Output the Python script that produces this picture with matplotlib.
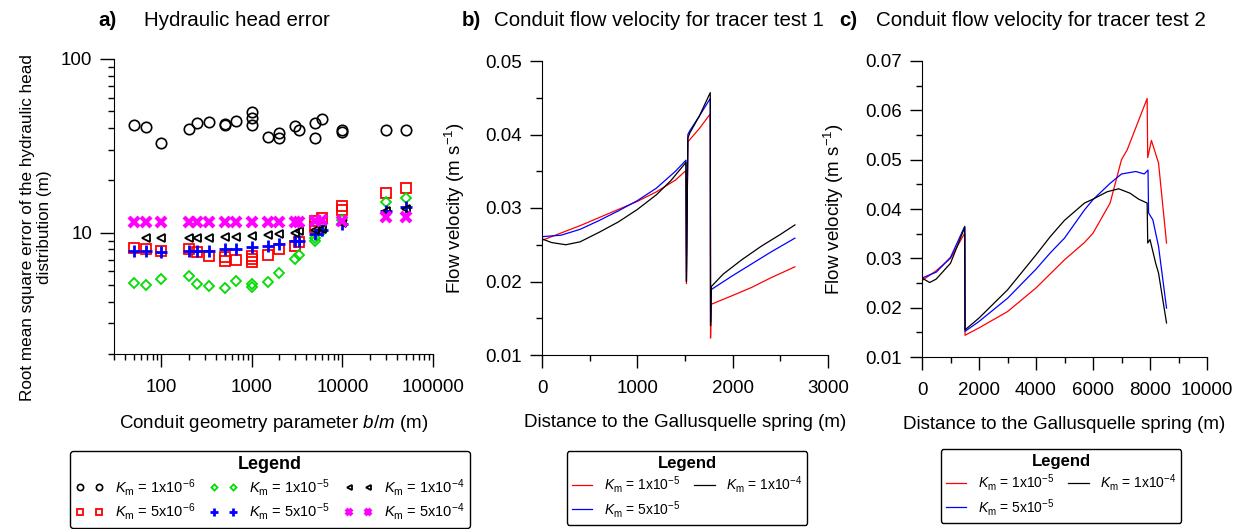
import numpy as np
import matplotlib
matplotlib.use('Agg')
import matplotlib.pyplot as plt
from matplotlib.ticker import LogLocator, MultipleLocator, NullFormatter, FixedLocator

plt.rcParams['font.family'] = ['Liberation Sans', 'DejaVu Sans']
plt.rcParams['mathtext.fontset'] = 'custom'
plt.rcParams['mathtext.rm'] = 'Liberation Sans'
plt.rcParams['mathtext.it'] = 'Liberation Sans:italic'
plt.rcParams['mathtext.bf'] = 'Liberation Sans:bold'

# ---- panel a: RMSE of hydraulic head vs b/m ----
bm = [50, 67, 100, 200, 250, 333, 500, 667, 1000, 1500, 2000, 3000, 3333, 5000, 6000, 10000, 30000, 50000]

# K_m = 1e-6 (circles), some b/m have several runs
circ_x = [50, 67, 100, 200, 250, 333, 500, 500, 667, 1000, 1000, 1000, 1500, 2000, 2000,
          3000, 3333, 5000, 5000, 6000, 10000, 10000, 30000, 50000]
circ_y = [41.9, 40.6, 33.0, 39.7, 42.9, 43.6, 42.5, 41.7, 44.0, 49.4, 46.0, 41.9, 35.6, 37.7, 35.1,
          41.4, 38.9, 42.9, 35.2, 45.4, 39.2, 38.2, 39.2, 39.2]
# K_m = 5e-6 (squares)
sq_x = [50, 67, 100, 200, 250, 333, 500, 500, 667, 1000, 1000, 1000, 1500, 2000, 3000, 3333,
        5000, 5000, 6000, 10000, 10000, 30000, 50000]
sq_y = [8.2, 8.0, 7.8, 8.0, 7.7, 7.3, 7.2, 6.9, 7.0, 7.35, 7.05, 6.75, 7.45, 8.05, 8.4, 8.8,
        11.6, 10.8, 12.2, 14.3, 13.5, 16.9, 18.0]
# K_m = 1e-5 (diamonds)
dia_x = [50, 67, 100, 200, 250, 333, 500, 667, 1000, 1000, 1500, 2000, 3000, 3333, 5000, 5000,
         6000, 10000, 30000, 50000]
dia_y = [5.12, 4.99, 5.40, 5.63, 5.05, 4.94, 4.79, 5.28, 5.05, 4.87, 5.23, 5.85, 7.05, 7.43, 9.0, 9.3,
         10.2, 11.8, 15.0, 15.8]
# K_m = 5e-5 (plus)
plus_y = [7.8, 7.8, 7.75, 7.8, 7.8, 7.8, 8.0, 8.05, 8.3, 8.4, 8.6, 8.9, 9.0, 9.8, 10.3, 11.2, 13.4, 14.0]
# K_m = 1e-4 (triangles)
tri_x = bm[1:]
tri_y = [9.3, 9.3, 9.35, 9.3, 9.3, 9.4, 9.4, 9.6, 9.7, 9.8, 10.0, 10.2, 10.4, 10.5, 11.3, 13.3, 13.6]
# K_m = 5e-4 (crosses)
x_y = [11.5, 11.5, 11.5, 11.5, 11.5, 11.5, 11.5, 11.5, 11.5, 11.5, 11.5, 11.5, 11.5, 11.7, 11.8, 11.7, 12.3, 12.3]

# ---- panel b: tracer test 1 ----
b_red_x = [0, 200, 400, 600, 800, 1000, 1200, 1400, 1510, 1515, 1530, 1550, 1650, 1765, 1768, 1775, 2000, 2200, 2400, 2653]
b_red_y = [0.0256, 0.0266, 0.0276, 0.0287, 0.0298, 0.0309, 0.0322, 0.0338, 0.0351, 0.0197, 0.0390, 0.0393,
           0.0408, 0.0428, 0.0123, 0.0169, 0.0181, 0.0192, 0.0205, 0.0220]
b_blue_x = [0, 200, 400, 600, 800, 1000, 1200, 1400, 1510, 1515, 1530, 1550, 1650, 1765, 1768, 1775, 2000, 2200, 2400, 2653]
b_blue_y = [0.0261, 0.0263, 0.0271, 0.0283, 0.0296, 0.0310, 0.0327, 0.0350, 0.0365, 0.0200, 0.0400, 0.0405,
            0.0425, 0.0449, 0.0145, 0.0189, 0.0208, 0.0224, 0.0240, 0.0259]
b_black_x = [0, 100, 250, 400, 600, 800, 1000, 1200, 1350, 1510, 1515, 1530, 1550, 1650, 1765, 1768, 1775,
             1900, 2100, 2300, 2500, 2653]
b_black_y = [0.0258, 0.0253, 0.0250, 0.0254, 0.0267, 0.0281, 0.0298, 0.0318, 0.0337, 0.0362, 0.0200, 0.0395,
             0.0402, 0.0425, 0.0457, 0.0140, 0.0193, 0.0210, 0.0230, 0.0248, 0.0264, 0.0277]

# ---- panel c: tracer test 2 ----
c_red_x = [0, 500, 1000, 1500, 1510, 2000, 3000, 4000, 5000, 5700, 6000, 6600, 7000, 7200, 7900, 7920,
           8050, 8300, 8580]
c_red_y = [0.0255, 0.0275, 0.0300, 0.0351, 0.0144, 0.0159, 0.0192, 0.0240, 0.0297, 0.0332, 0.0351, 0.0412,
           0.0500, 0.0520, 0.0624, 0.0504, 0.0539, 0.0493, 0.0331]
c_blue_x = [0, 500, 1000, 1500, 1510, 2000, 3000, 4000, 4500, 5000, 5700, 6000, 6600, 7000, 7500, 7800,
            7930, 7950, 8100, 8300, 8580]
c_blue_y = [0.0260, 0.0272, 0.0302, 0.0365, 0.0152, 0.0172, 0.0219, 0.0278, 0.0311, 0.0341, 0.0398, 0.0419,
            0.0452, 0.0471, 0.0476, 0.0471, 0.0479, 0.0392, 0.0378, 0.0324, 0.0199]
c_black_x = [0, 270, 500, 1000, 1500, 1510, 2000, 3000, 4000, 4500, 5000, 5700, 6000, 6500, 6900, 7300,
             7600, 7900, 7920, 8000, 8200, 8300, 8580]
c_black_y = [0.0260, 0.0251, 0.0258, 0.0290, 0.0363, 0.0155, 0.0179, 0.0236, 0.0307, 0.0344, 0.0377, 0.0412,
             0.0420, 0.0435, 0.0441, 0.0432, 0.0420, 0.0412, 0.0331, 0.0338, 0.0290, 0.0270, 0.0169]

W, H = 1243, 529
fig = plt.figure(figsize=(W / 100, H / 100), dpi=100)


def box(l, r, t, b):
    return [l / W, 1 - b / H, (r - l) / W, (b - t) / H]


def style(ax):
    ax.spines['top'].set_visible(False)
    ax.spines['right'].set_visible(False)
    ax.tick_params(which='major', direction='out', length=9, width=1, labelsize=13.5)
    ax.tick_params(axis='x', which='major', pad=9)
    ax.tick_params(axis='y', which='major', pad=5.5)
    ax.tick_params(which='minor', direction='out', length=4.5, width=1)


def legend(handles, labels, cx, top, ncol, fs, tfs, **kw):
    lg = fig.legend(handles, labels, loc='upper center', bbox_to_anchor=(cx / W, 1 - top / H), ncol=ncol,
                    fontsize=fs, title='Legend', title_fontproperties={'weight': 'bold', 'size': tfs},
                    frameon=True, fancybox=True, edgecolor='black', framealpha=1,
                    borderpad=0.36, labelspacing=0.24, borderaxespad=0, **kw)
    lg.get_frame().set_linewidth(1)
    return lg


km = r'$K_\mathrm{m}$ = '

# panel a
axa = fig.add_axes(box(114, 433, 59, 354))
style(axa)
axa.tick_params(axis='y', which='major', length=10)
axa.set_xscale('log')
axa.set_yscale('log')
axa.plot(circ_x, circ_y, 'o', ms=7.5, mfc='none', mec='black', mew=1.2, ls='none', label=km + '1x10$^{-6}$')
axa.plot(sq_x, sq_y, 's', ms=7.3, mfc='none', mec='red', mew=1.3, ls='none', label=km + '5x10$^{-6}$')
axa.plot(dia_x, dia_y, 'D', ms=5.2, mfc='none', mec='#00dd00', mew=1.3, ls='none', label=km + '1x10$^{-5}$')
axa.plot(bm, plus_y, '+', ms=9, mec='blue', mew=2, ls='none', label=km + '5x10$^{-5}$')
axa.plot(tri_x, tri_y, '<', ms=6, mfc='none', mec='black', mew=1.3, ls='none', label=km + '1x10$^{-4}$')
axa.plot(bm, x_y, 'x', ms=7, mec='magenta', mew=3, ls='none', label=km + '5x10$^{-4}$')
axa.set_xlim(30, 1e5)
axa.set_ylim(2, 100)
axa.xaxis.set_major_locator(FixedLocator([100, 1000, 10000, 100000]))
axa.xaxis.set_minor_locator(LogLocator(base=10, subs=np.arange(2, 10)))
axa.xaxis.set_minor_formatter(NullFormatter())
axa.yaxis.set_major_locator(FixedLocator([10, 100]))
axa.yaxis.set_minor_locator(LogLocator(base=10, subs=np.arange(2, 10)))
axa.yaxis.set_minor_formatter(NullFormatter())
axa.set_xticklabels(['100', '1000', '10000', '100000'])
axa.set_yticklabels(['10', '100'])
axa.set_xlabel(r'Conduit geometry parameter $b/m$ (m)', fontsize=13.5)
axa.set_ylabel('Root mean square error of the hydraulic head\ndistribution (m)', fontsize=12.3,
               linespacing=1.15)
axa.yaxis.set_label_coords(-0.195, 0.43)
axa.xaxis.set_label_coords(0.5, -0.2)

ha_, la_ = axa.get_legend_handles_labels()
legend(ha_, la_, 270, 451, 3, 10.5, 13, numpoints=2, markerscale=0.6,
       handlelength=1.9, handletextpad=0.8, columnspacing=1.0)

# panel b
axb = fig.add_axes(box(542, 828, 61, 355))
style(axb)
axb.plot(b_red_x, b_red_y, color='red', lw=0.9, label=km + '1x10$^{-5}$')
axb.plot(b_blue_x, b_blue_y, color='blue', lw=0.9, label=km + '5x10$^{-5}$')
axb.plot(b_black_x, b_black_y, color='black', lw=0.9, label=km + '1x10$^{-4}$')
axb.set_xlim(0, 3000)
axb.set_ylim(0.01, 0.05)
axb.xaxis.set_major_locator(MultipleLocator(1000))
axb.xaxis.set_minor_locator(MultipleLocator(500))
axb.yaxis.set_major_locator(MultipleLocator(0.01))
axb.yaxis.set_minor_locator(MultipleLocator(0.005))
axb.yaxis.set_major_formatter(plt.FormatStrFormatter('%.2f'))
axb.set_xlabel('Distance to the Gallusquelle spring (m)', fontsize=13.5)
axb.set_ylabel(r'Flow velocity (m s$^{-1}$)', fontsize=13.5)
axb.xaxis.set_label_coords(0.5, -0.2)
axb.yaxis.set_label_coords(-0.262, 0.5)

hb, lb = axb.get_legend_handles_labels()
legend(hb, lb, 687, 451, 2, 10, 12, handlelength=1.5, handletextpad=0.8, columnspacing=1.0)

# panel c
axc = fig.add_axes(box(922, 1207, 61, 357))
style(axc)
axc.plot(c_red_x, c_red_y, color='red', lw=0.9, label=km + '1x10$^{-5}$')
axc.plot(c_blue_x, c_blue_y, color='blue', lw=0.9, label=km + '5x10$^{-5}$')
axc.plot(c_black_x, c_black_y, color='black', lw=0.9, label=km + '1x10$^{-4}$')
axc.set_xlim(0, 10000)
axc.set_ylim(0.01, 0.07)
axc.xaxis.set_major_locator(MultipleLocator(2000))
axc.xaxis.set_minor_locator(MultipleLocator(1000))
axc.yaxis.set_major_locator(MultipleLocator(0.01))
axc.yaxis.set_minor_locator(MultipleLocator(0.005))
axc.yaxis.set_major_formatter(plt.FormatStrFormatter('%.2f'))
axc.set_xlabel('Distance to the Gallusquelle spring (m)', fontsize=13.5)
axc.set_ylabel(r'Flow velocity (m s$^{-1}$)', fontsize=13.5)
axc.xaxis.set_label_coords(0.5, -0.2)
axc.yaxis.set_label_coords(-0.267, 0.5)

hc, lc = axc.get_legend_handles_labels()
legend(hc, lc, 1061, 449, 2, 10, 12, handlelength=1.5, handletextpad=0.8, columnspacing=1.0)

# panel titles
for xl, tag, xt, txt in [(98, 'a)', 144, 'Hydraulic head error'),
                         (462, 'b)', 494, 'Conduit flow velocity for tracer test 1'),
                         (839, 'c)', 876, 'Conduit flow velocity for tracer test 2')]:
    fig.text(xl / W, 1 - 21 / H, tag, fontsize=14.8, fontweight='bold', va='center', ha='left')
    fig.text(xt / W, 1 - 21 / H, txt, fontsize=14.8, va='center', ha='left')

fig.savefig('out.png', dpi=100)
